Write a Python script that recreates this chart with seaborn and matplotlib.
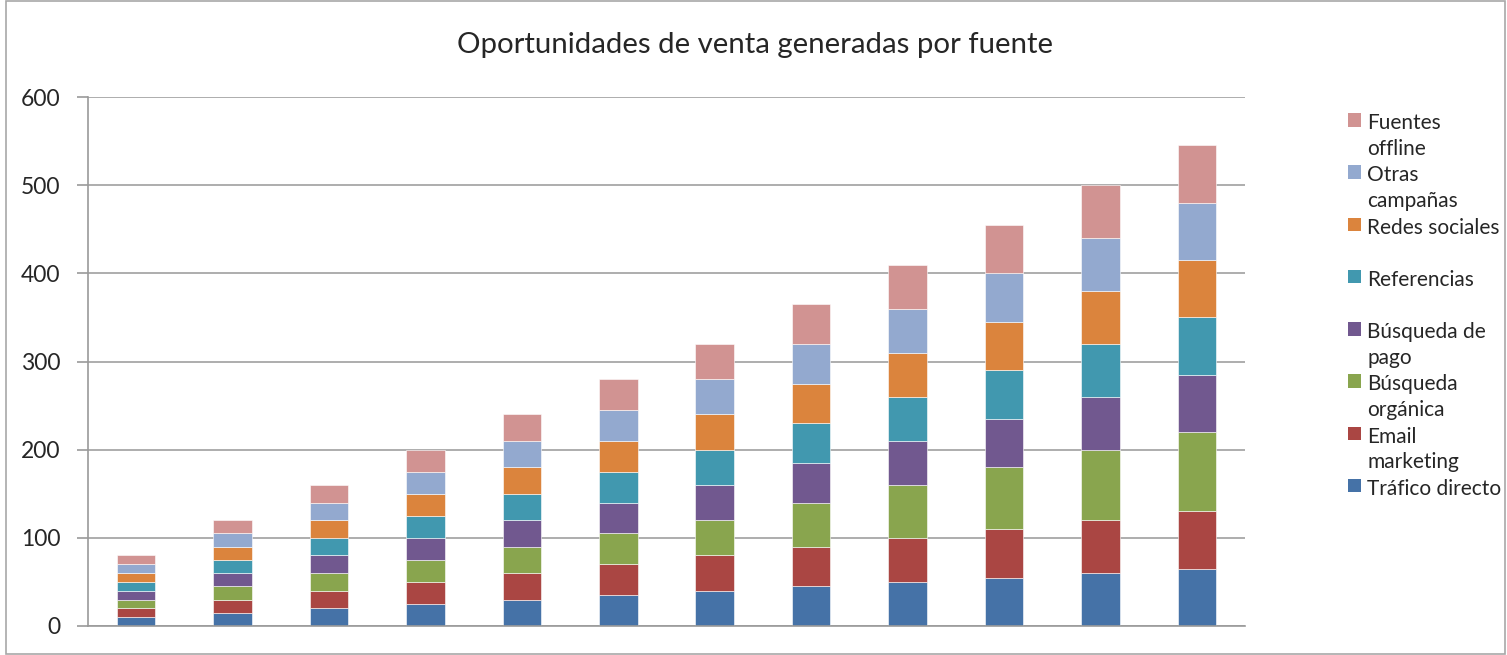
import matplotlib
matplotlib.use("Agg")
import matplotlib.pyplot as plt
import matplotlib.patches as mpatches
import seaborn as sns
import numpy as np

categories = [str(i) for i in range(1, 13)]
trafico_directo = [10, 15, 20, 25, 30, 35, 40, 45, 50, 55, 60, 65]
email_marketing = [10, 15, 20, 25, 30, 35, 40, 45, 50, 55, 60, 65]
busqueda_organica = [10, 15, 20, 25, 30, 35, 40, 50, 60, 70, 80, 90]
busqueda_pago = [10, 15, 20, 25, 30, 35, 40, 45, 50, 55, 60, 65]
referencias = [10, 15, 20, 25, 30, 35, 40, 45, 50, 55, 60, 65]
redes_sociales = [10, 15, 20, 25, 30, 35, 40, 45, 50, 55, 60, 65]
otras_campanas = [10, 15, 20, 25, 30, 35, 40, 45, 50, 55, 60, 65]
fuentes_offline = [10, 15, 20, 25, 30, 35, 40, 45, 50, 55, 60, 65]

series_names = ["Tráfico directo", "Email marketing", "Búsqueda orgánica",
                "Búsqueda de pago", "Referencias", "Redes sociales",
                "Otras campañas", "Fuentes offline"]
legend_labels = ["Tráfico directo\n", "Email\nmarketing", "Búsqueda\norgánica",
                 "Búsqueda de\npago", "Referencias\n", "Redes sociales\n",
                 "Otras\ncampañas", "Fuentes\noffline"]
series_values = [trafico_directo, email_marketing, busqueda_organica, busqueda_pago,
                 referencias, redes_sociales, otras_campanas, fuentes_offline]
colors = ["#4572A7", "#AA4643", "#89A54E", "#71588F", "#4198AF", "#DB843D",
          "#93A9CF", "#D19392"]
y_ticks = [0, 100, 200, 300, 400, 500, 600]

sns.set_theme(style="white")
plt.rcParams['font.family'] = ['Lato', 'DejaVu Sans']

fig = plt.figure(figsize=(15.07, 6.55), dpi=100)
ax = fig.add_axes([88/1507, 29/655, (1245-88)/1507, (626-97)/655])

bottom = np.zeros(len(categories))
handles = []
for name, vals, col in zip(series_names, series_values, colors):
    sns.barplot(x=categories, y=vals, bottom=bottom, color=col, width=0.4,
                ax=ax, saturation=1, edgecolor="white", linewidth=0.4)
    bottom = bottom + np.array(vals)
    handles.append(mpatches.Patch(facecolor=col, edgecolor="none"))

ax.set_ylim(0, 600)
ax.set_xlim(-0.5, 11.5)
ax.set_yticks(y_ticks)
ax.set_yticklabels([str(t) for t in y_ticks], fontsize=16.5)
ax.set_xticks([])
ax.set_xlabel("")
ax.set_ylabel("")
ax.yaxis.grid(True, color="#A0A0A0", linewidth=1.2)
ax.set_axisbelow(True)
for side in ["top", "right"]:
    ax.spines[side].set_visible(False)
for side in ["left", "bottom"]:
    ax.spines[side].set_color("#9A9A9A")
    ax.spines[side].set_linewidth(1.2)
ax.tick_params(axis="y", which="both", left=True, length=8, width=1.2,
               color="#9A9A9A", pad=12)

fig.text(755/1507, 1 - 45/655, "Oportunidades de venta generadas por fuente",
         ha="center", va="center", fontsize=21.2)

leg = ax.legend(handles[::-1], legend_labels[::-1], loc="upper left",
                bbox_to_anchor=(1348/1507, 1 - 113/655), bbox_transform=fig.transFigure,
                frameon=False, fontsize=15, handlelength=0.62, handleheight=0.62,
                handletextpad=0.3, labelspacing=0.32, borderpad=0, borderaxespad=0)
for t in leg.get_texts():
    t.set_linespacing(1.35)
# align patches with the first line of each entry
for col in leg._legend_handle_box.get_children():
    for hp in col.get_children():
        hp.align = "top"

border = mpatches.Rectangle((6/1507, 1/655), (1505-6)/1507, 653/655,
                            transform=fig.transFigure, fill=False,
                            edgecolor="#A8A8A8", linewidth=1.2)
fig.patches.append(border)

fig.savefig("out.png", dpi=100, facecolor="white")
